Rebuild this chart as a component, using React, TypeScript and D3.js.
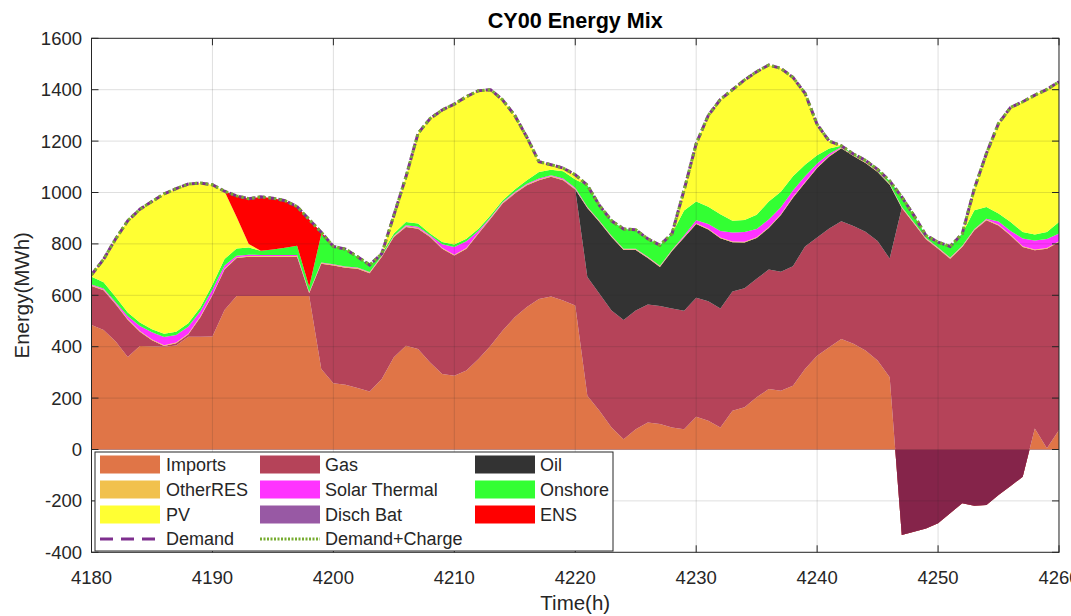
import React from 'react';
import * as d3 from 'd3';

// ---------- data (hourly, 4180 .. 4260) ----------
const hours = d3.range(4180, 4261);
const xTicks = [4180, 4190, 4200, 4210, 4220, 4230, 4240, 4250, 4260];
const yTicks = [-400, -200, 0, 200, 400, 600, 800, 1000, 1200, 1400, 1600];

const imports = [
  484, 465, 420, 360, 403, 402, 400, 405, 439, 439, 440, 543, 597, 597, 597, 597, 597, 597, 597, 313, 258,
  252, 239, 226, 274, 359, 404, 391, 339, 294, 287, 307, 352, 404, 463, 515, 554, 586, 595, 580, 560,
  209, 151, 86, 40, 79, 105, 99, 86, 79, 127, 112, 86, 151, 164, 203, 235, 229, 248, 313, 365,
  398, 430, 411, 385, 346, 281, -333, -320, -307, -287, -248, -209, -219, -216, -177, -142, -106, 82, 5, 76,
];
const gas = [
  152, 155, 145, 145, 55, 23, 3, 8, 8, 76, 160, 157, 148, 153, 153, 153, 153, 153, 11, 410, 458,
  455, 464, 460, 475, 468, 462, 468, 488, 487, 468, 474, 488, 494, 494, 481, 474, 462, 466, 468, 452,
  462, 455, 455, 464, 462, 459, 459, 463, 461, 463, 465, 463, 464, 463, 461, 465, 463, 465, 477, 460,
  462, 458, 459, 462, 465, 462, 1273, 1199, 1125, 1068, 990, 997, 1072, 1108, 1049, 975, 894, 693, 776, 731,
];
const oil = [
  0, 0, 0, 0, 0, 0, 0, 0, 0, 0, 0, 0, 0, 0, 0, 0, 0, 0, 0, 0, 0,
  0, 0, 0, 0, 0, 0, 0, 0, 0, 0, 0, 0, 0, 0, 0, 0, 0, 0, 0, 0,
  269, 279, 286, 272, 235, 181, 152, 223, 285, 287, 279, 273, 191, 178, 159, 162, 220, 267, 248, 270,
  280, 284, 272, 268, 269, 287, 0, 0, 0, 0, 0, 0, 0, 0, 0, 0, 0, 0, 0, 0,
];
const otherRES = [
  3, 3, 3, 3, 3, 3, 3, 3, 3, 3, 3, 3, 3, 3, 3, 3, 3, 3, 3, 3, 3,
  3, 3, 3, 3, 3, 3, 3, 3, 3, 3, 3, 3, 3, 3, 3, 3, 3, 3, 3, 3,
  3, 3, 3, 3, 3, 3, 3, 3, 3, 3, 3, 3, 3, 3, 3, 3, 3, 3, 3, 3,
  3, 3, 3, 3, 3, 3, 3, 3, 3, 3, 3, 3, 3, 3, 3, 3, 3, 3, 3, 3,
];
const solarThermal = [
  3, 3, 5, 10, 20, 28, 32, 30, 28, 20, 20, 13, 6, 5, 4, 4, 4, 4, 2, 2, 2,
  2, 2, 2, 2, 2, 4, 5, 4, 15, 30, 26, 8, 3, 3, 3, 3, 3, 3, 3, 3,
  2, 2, 2, 2, 2, 2, 2, 2, 5, 12, 18, 25, 35, 38, 32, 30, 28, 25, 22, 15,
  8, 2, 1, 1, 1, 1, 2, 2, 2, 2, 2, 2, 2, 3, 12, 14, 30, 35, 35, 30,
];
const onshore = [
  30, 25, 20, 15, 13, 12, 12, 12, 13, 15, 18, 25, 28, 28, 16, 21, 28, 36, 20, 110, 69,
  67, 41, 25, 8, 8, 12, 12, 6, 8, 10, 10, 8, 7, 7, 10, 14, 26, 22, 29, 33,
  83, 60, 58, 77, 74, 70, 80, 63, 97, 73, 68, 65, 46, 47, 55, 70, 60, 55, 45, 32,
  20, 5, 4, 6, 6, 11, 38, 27, 10, 21, 43, 47, 73, 46, 31, 35, 25, 24, 27, 45,
];
const pv = [
  8, 89, 227, 357, 441, 497, 545, 557, 542, 484, 389, 264, 123, 14, 0, 0, 0, 0, 0, 0, 0,
  0, 0, 0, 0, 71, 176, 351, 448, 514, 546, 553, 537, 489, 390, 288, 167, 40, 19, 12, 18,
  0, 0, 0, 0, 0, 0, 0, 0, 80, 225, 355, 447, 510, 545, 557, 531, 480, 385, 278, 120,
  29, 0, 0, 0, 0, 0, 0, 0, 0, 0, 0, 0, 84, 208, 351, 446, 507, 542, 555, 546,
];
const dischBat = [
  0, 0, 0, 0, 0, 0, 0, 0, 0, 0, 0, 0, 0, 0, 0, 0, 0, 0, 0, 0, 0,
  0, 0, 0, 0, 0, 0, 0, 0, 0, 0, 0, 0, 0, 0, 0, 0, 0, 0, 0, 0,
  0, 0, 0, 0, 0, 0, 0, 0, 0, 0, 0, 0, 0, 0, 0, 0, 0, 0, 0, 0,
  0, 0, 0, 0, 0, 0, 0, 0, 0, 0, 0, 0, 0, 0, 0, 0, 0, 0, 0, 0,
];
const ens = [
  0, 0, 0, 0, 0, 0, 0, 0, 0, 0, 0, 0, 82, 176, 210, 200, 183, 152, 262, 7, 0,
  0, 0, 0, 0, 0, 0, 0, 0, 0, 0, 0, 0, 0, 0, 0, 0, 0, 0, 0, 0,
  0, 0, 0, 0, 0, 0, 0, 0, 0, 0, 0, 0, 0, 0, 0, 0, 0, 0, 0, 0,
  0, 0, 0, 0, 0, 0, 0, 0, 0, 0, 0, 0, 0, 0, 0, 0, 0, 0, 0, 0,
];
const demand = [
  680, 740, 820, 890, 935, 965, 995, 1015, 1033, 1037, 1030, 1005, 987, 976, 983, 978, 968, 945, 895, 845, 790,
  780, 750, 718, 762, 911, 1061, 1230, 1288, 1321, 1344, 1373, 1396, 1400, 1360, 1300, 1215, 1120, 1108, 1095, 1069,
  1028, 950, 890, 858, 855, 820, 795, 840, 1010, 1190, 1300, 1362, 1400, 1438, 1470, 1496, 1483, 1448, 1386, 1265,
  1200, 1182, 1150, 1125, 1090, 1045, 983, 911, 833, 807, 790, 840, 1015, 1152, 1269, 1331, 1353, 1379, 1401, 1431,
];
const demandCharge = [
  680, 740, 820, 890, 935, 965, 995, 1015, 1033, 1037, 1030, 1005, 987, 976, 983, 978, 968, 945, 895, 845, 790,
  780, 750, 718, 762, 911, 1061, 1230, 1288, 1321, 1344, 1373, 1396, 1400, 1360, 1300, 1215, 1120, 1108, 1095, 1069,
  1028, 950, 890, 858, 855, 820, 795, 840, 1010, 1190, 1300, 1362, 1400, 1438, 1470, 1496, 1483, 1448, 1386, 1265,
  1200, 1182, 1150, 1125, 1090, 1045, 983, 911, 833, 807, 790, 840, 1015, 1152, 1269, 1331, 1353, 1379, 1401, 1431,
];

// ---------- styles ----------
const stackKeys = ['imports', 'gas', 'oil', 'otherRES', 'solarThermal', 'onshore', 'pv', 'dischBat', 'ens'];
const seriesData: Record<string, number[]> = { imports, gas, oil, otherRES, solarThermal, onshore, pv, dischBat, ens };
const colors: Record<string, string> = {
  imports: '#E07547',
  gas: '#B54359',
  oil: '#333333',
  otherRES: '#F1C14D',
  solarThermal: '#FF33FF',
  onshore: '#33FF33',
  pv: '#FFFF33',
  dischBat: '#9859A4',
  ens: '#FF0000',
};
const overlapColor = '#85244A';
const demandColor = '#7E2F8E';
const chargeColor = '#77AC30';
const axisColor = '#262626';
const FONT = '"Liberation Sans", Arial, Helvetica, sans-serif';

const legendItems = [
  { key: 'imports', label: 'Imports', col: 0, row: 0 },
  { key: 'otherRES', label: 'OtherRES', col: 0, row: 1 },
  { key: 'pv', label: 'PV', col: 0, row: 2 },
  { key: 'demand', label: 'Demand', col: 0, row: 3, line: 'dash' },
  { key: 'gas', label: 'Gas', col: 1, row: 0 },
  { key: 'solarThermal', label: 'Solar Thermal', col: 1, row: 1 },
  { key: 'dischBat', label: 'Disch Bat', col: 1, row: 2 },
  { key: 'demandCharge', label: 'Demand+Charge', col: 1, row: 3, line: 'dot' },
  { key: 'oil', label: 'Oil', col: 2, row: 0 },
  { key: 'onshore', label: 'Onshore', col: 2, row: 1 },
  { key: 'ens', label: 'ENS', col: 2, row: 2 },
];

export default function App() {
  const W = 1071;
  const H = 616;
  const left = 91.5;
  const right = 1059;
  const top = 38.3;
  const bottom = 552.3;

  const x = d3.scaleLinear().domain([4180, 4260]).range([left, right]);
  const y = d3.scaleLinear().domain([-400, 1600]).range([bottom, top]);

  const table = hours.map((h, i) => {
    const row: any = { h };
    stackKeys.forEach((k) => (row[k] = seriesData[k][i]));
    return row;
  });
  const stacked = d3
    .stack<any>()
    .keys(stackKeys)
    .order(d3.stackOrderNone)
    .offset(d3.stackOffsetNone)(table);

  const area = d3
    .area<any>()
    .x((d: any) => x(d.data.h))
    .y0((d: any) => y(d[0]))
    .y1((d: any) => y(d[1]));

  const line = d3
    .line<number>()
    .x((_d, i) => x(hours[i]))
    .y((d) => y(d));

  const tickLen = 7;
  const colX = [100, 260, 475];
  const textX = [166, 325, 540];
  const rowY = [464.5, 489.5, 514.5, 539];

  return (
    <svg
      width={W}
      height={H}
      style={{ position: 'absolute', left: 0, top: 0, background: '#fff' }}
      fontFamily={FONT}
    >
      <defs>
        <clipPath id="plotClip">
          <rect x={left} y={top} width={right - left} height={bottom - top} />
        </clipPath>
        <clipPath id="negClip">
          <rect x={left} y={y(0)} width={right - left} height={bottom - y(0)} />
        </clipPath>
      </defs>
      <rect x={0} y={0} width={W} height={H} fill="#fff" />

      <g clipPath="url(#plotClip)">
        {stacked.map((s) => (
          <path key={s.key} d={area(s as any) || ''} fill={colors[s.key]} stroke="none" />
        ))}
        {/* overlap of stacked gas over negative imports */}
        <path d={area(stacked[0] as any) || ''} fill={overlapColor} clipPath="url(#negClip)" />

        {/* grid */}
        {xTicks.map((t) => (
          <line key={'gx' + t} x1={x(t)} x2={x(t)} y1={top} y2={bottom} stroke={axisColor} strokeOpacity={0.15} />
        ))}
        {yTicks.map((t) => (
          <line key={'gy' + t} x1={left} x2={right} y1={y(t)} y2={y(t)} stroke={axisColor} strokeOpacity={0.15} />
        ))}

        <path d={line(demand) || ''} fill="none" stroke={demandColor} strokeWidth={3} strokeDasharray="7 3" />
        <path d={line(demandCharge) || ''} fill="none" stroke={chargeColor} strokeWidth={3} strokeDasharray="2.5 3" />
      </g>

      {/* axes box & ticks */}
      <rect x={left} y={top} width={right - left} height={bottom - top} fill="none" stroke={axisColor} strokeWidth={1} />
      {xTicks.map((t) => (
        <g key={'tx' + t}>
          <line x1={x(t)} x2={x(t)} y1={bottom} y2={bottom - tickLen} stroke={axisColor} />
          <line x1={x(t)} x2={x(t)} y1={top} y2={top + tickLen} stroke={axisColor} />
          <text x={x(t)} y={578} dy="0.35em" textAnchor="middle" fontSize={18.5} fill={axisColor}>
            {t}
          </text>
        </g>
      ))}
      {yTicks.map((t) => (
        <g key={'ty' + t}>
          <line x1={left} x2={left + tickLen} y1={y(t)} y2={y(t)} stroke={axisColor} />
          <line x1={right} x2={right - tickLen} y1={y(t)} y2={y(t)} stroke={axisColor} />
          <text x={82} y={y(t)} dy="0.35em" textAnchor="end" fontSize={18.5} fill={axisColor}>
            {t}
          </text>
        </g>
      ))}

      {/* legend */}
      <rect x={95} y={452} width={518} height={99} fill="#fff" stroke={axisColor} strokeWidth={1} />
      {legendItems.map((it) => {
        const cx = colX[it.col];
        const cy = rowY[it.row];
        return (
          <g key={it.key}>
            {it.line === 'dash' ? (
              <line x1={cx} x2={cx + 60} y1={cy} y2={cy} stroke={demandColor} strokeWidth={3} strokeDasharray="13 8" />
            ) : it.line === 'dot' ? (
              <line x1={cx} x2={cx + 60} y1={cy} y2={cy} stroke={chargeColor} strokeWidth={3} strokeDasharray="2 1.5" />
            ) : (
              <rect x={cx} y={cy - 9} width={60} height={18} fill={colors[it.key]} />
            )}
            <text x={textX[it.col]} y={cy} dy="0.35em" fontSize={18} fill={axisColor}>
              {it.label}
            </text>
          </g>
        );
      })}

      {/* labels */}
      <text x={(left + right) / 2} y={28.3} textAnchor="middle" fontSize={21.6} fontWeight="bold" fill="#000">
        CY00 Energy Mix
      </text>
      <text x={(left + right) / 2} y={603} dy="0.35em" textAnchor="middle" fontSize={20.5} fill={axisColor}>
        Time(h)
      </text>
      <text
        transform={`translate(22, ${(top + bottom) / 2}) rotate(-90)`}
        textAnchor="middle"
        dy="0.35em"
        fontSize={20.5}
        fill={axisColor}
      >
        Energy(MWh)
      </text>
    </svg>
  );
}
